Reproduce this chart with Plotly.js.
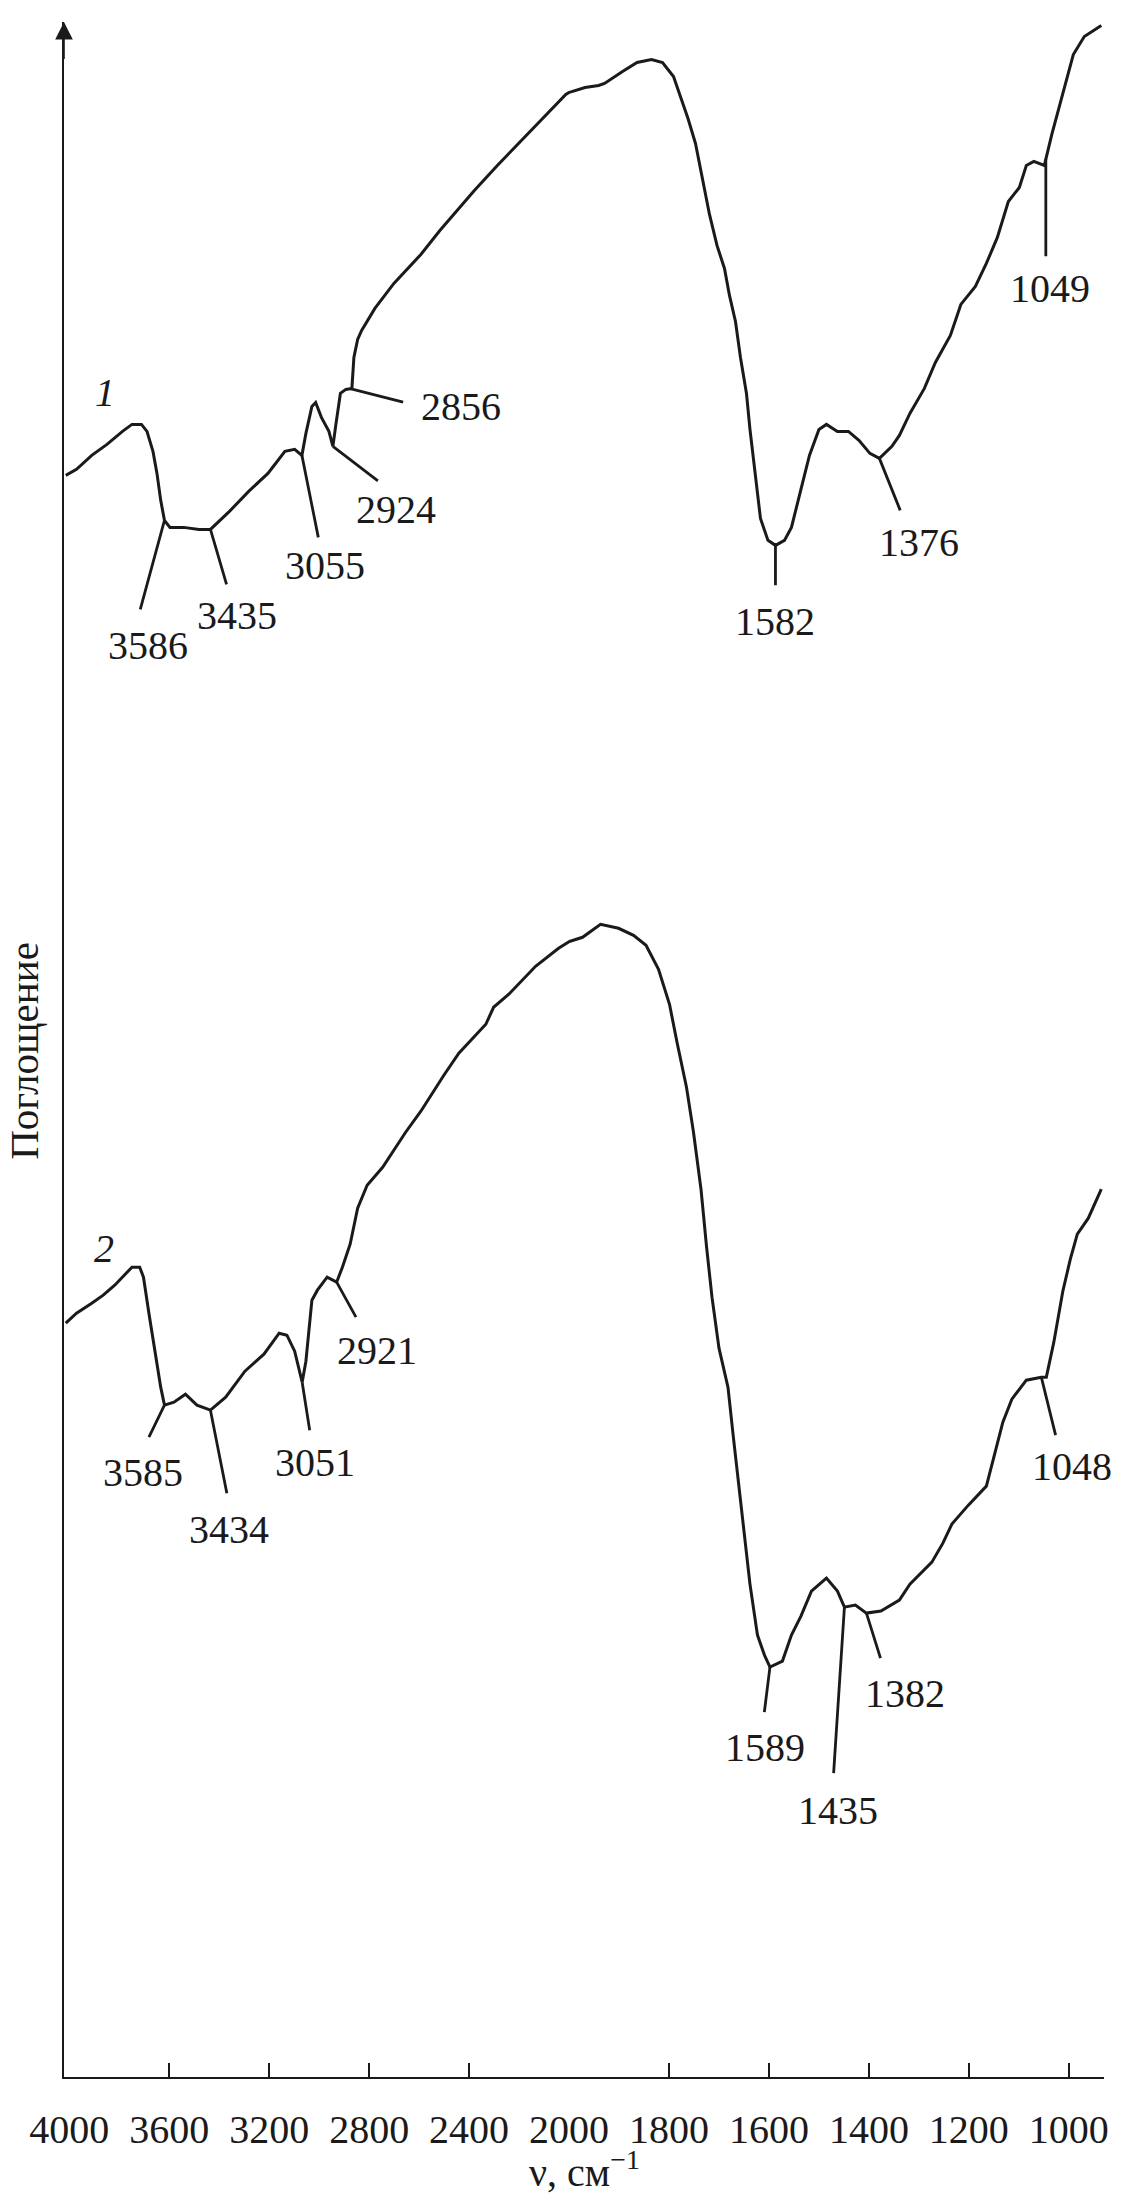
<!DOCTYPE html>
<html><head><meta charset="utf-8">
<script src="https://cdn.plot.ly/plotly-3.0.1.min.js"></script>
<style>html,body{margin:0;padding:0;background:#fff}</style>
</head><body><div id="chart" style="width:1121px;height:2200px"></div>
<script>
// ---- data ----
const wn1 = [4014,3971,3910,3849,3787,3749,3711,3689,3665,3649,3634,3619,3597,3542,3481,3435,3359,3282,3205,3137,3098,3069,3053,3029,3014,2991,2961,2945,2933,2915,2893,2869,2861,2846,2830,2777,2701,2593,2517,2441,2379,2287,2210,2105,2013,1968,1941,1929,1893,1864,1835,1813,1791,1777,1762,1747,1733,1719,1704,1689,1679,1667,1657,1645,1638,1627,1617,1602,1587,1569,1555,1537,1519,1500,1485,1463,1441,1420,1398,1379,1354,1339,1318,1289,1267,1237,1216,1187,1165,1143,1121,1099,1085,1070,1049,1034,1019,1005,991,969,935];
const abs1 = [1.602,1.608,1.622,1.633,1.646,1.653,1.653,1.646,1.626,1.604,1.577,1.557,1.550,1.550,1.548,1.548,1.566,1.586,1.604,1.626,1.628,1.622,1.644,1.671,1.675,1.660,1.646,1.631,1.653,1.684,1.688,1.689,1.720,1.738,1.747,1.769,1.794,1.823,1.847,1.869,1.887,1.912,1.932,1.959,1.983,1.990,1.992,1.994,2.006,2.015,2.018,2.015,2.001,1.981,1.959,1.934,1.898,1.863,1.832,1.809,1.782,1.756,1.720,1.684,1.648,1.604,1.559,1.537,1.532,1.537,1.550,1.586,1.622,1.648,1.653,1.646,1.646,1.637,1.624,1.619,1.631,1.642,1.664,1.689,1.715,1.742,1.773,1.791,1.814,1.840,1.876,1.890,1.912,1.916,1.912,1.943,1.970,1.997,2.023,2.041,2.052];
const wn2 = [4014,3971,3910,3864,3818,3772,3749,3718,3703,3680,3657,3634,3619,3581,3535,3489,3435,3374,3297,3221,3160,3129,3098,3068,3053,3029,3007,2968,2930,2907,2876,2846,2808,2746,2654,2593,2501,2441,2333,2302,2241,2134,2042,1991,1973,1937,1901,1871,1846,1821,1799,1784,1765,1751,1736,1725,1714,1700,1682,1671,1660,1649,1638,1623,1609,1598,1573,1555,1536,1515,1485,1463,1449,1427,1405,1376,1339,1318,1274,1252,1234,1201,1165,1150,1132,1114,1085,1055,1045,1030,1012,997,983,961,935];
const abs2 = [0.754,0.764,0.774,0.782,0.792,0.804,0.810,0.810,0.800,0.762,0.726,0.690,0.672,0.675,0.683,0.672,0.667,0.680,0.706,0.723,0.744,0.742,0.726,0.695,0.716,0.777,0.787,0.800,0.795,0.810,0.833,0.869,0.892,0.910,0.945,0.966,1.002,1.024,1.053,1.070,1.083,1.111,1.129,1.137,1.140,1.153,1.149,1.142,1.132,1.108,1.073,1.035,0.990,0.945,0.888,0.831,0.780,0.729,0.690,0.639,0.588,0.544,0.493,0.442,0.422,0.410,0.416,0.442,0.461,0.486,0.499,0.486,0.470,0.472,0.464,0.466,0.477,0.493,0.515,0.534,0.553,0.572,0.591,0.620,0.655,0.678,0.697,0.700,0.700,0.735,0.786,0.818,0.843,0.859,0.888];

const labelsHigh = [4000,3600,3200,2800,2400];   // tick labels on the 4000–2000 scale
const marksHigh = [3600,3200,2800,2400];          // tick marks (4000 sits on the y axis)
const ticksLow = [2000,1800,1600,1400,1200,1000];

// peak labels and the wavenumber where each marker line meets the curve
const peaks1 = [3586,3435,3055,2924,2856,1582,1376,1049];
const peakAt1 = [3619,3435,3069,2945,2876,1587,1379,1046];
const peaks2 = [3585,3434,3051,2921,1589,1435,1382,1048];
const peakAt2 = [3619,3435,3068,2930,1598,1449,1405,1055];

const curveNames = ['1','2'];
const yTitle = 'Поглощение';
const xTitle = 'ν, см<sup>−1</sup>';

// ---- layout / style (pixel offsets for marker lines and labels) ----
const lead1 = [[-25,92],[17,58],[17,85],[47,36],[55,14],[0,43],[22,55],[0,100]];
const lab1  = [[-16,125],[27,86],[23,110],[63,63],[111,18],[0,76],[40,84],[4,129]];
const lead2 = [[-17,35],[17,86],[8,51],[21,38],[-6,48],[-11,169],[15,48],[15,61]];
const lab2  = [[-21,67],[19,119],[13,80],[40,68],[-5,80],[-6,203],[39,80],[31,89]];

const C = '#1a1a1a';
const SERIF = 'Liberation Serif, "DejaVu Serif", serif';
const D1 = 0.48563;

function split(xs, ys){
  const a={x:[],y:[]}, b={x:[],y:[]};
  for(let i=0;i<xs.length;i++){
    if(xs[i]>=2000){
      a.x.push(xs[i]); a.y.push(ys[i]);
      if(i+1<xs.length && xs[i+1]<2000){
        a.x.push(xs[i+1]); a.y.push(ys[i+1]);
        b.x.push(xs[i]); b.y.push(ys[i]);
      }
    } else { b.x.push(xs[i]); b.y.push(ys[i]); }
  }
  return [a,b];
}
function interp(xs, ys, x){
  for(let i=0;i<xs.length-1;i++){
    const a=xs[i], b=xs[i+1];
    if(x<=a && x>=b){ const t=(a-x)/(a-b); return ys[i]+t*(ys[i+1]-ys[i]); }
  }
  return ys[ys.length-1];
}

const traces = [];
[[wn1,abs1],[wn2,abs2]].forEach(([xs,ys])=>{
  const [a,b] = split(xs,ys);
  traces.push({x:a.x,y:a.y,xaxis:'x',yaxis:'y',mode:'lines',line:{color:C,width:3},hoverinfo:'skip'});
  traces.push({x:b.x,y:b.y,xaxis:'x2',yaxis:'y',mode:'lines',line:{color:C,width:3},hoverinfo:'skip'});
});

const ann = [];
function addPeaks(peaks, at, xs, ys, lead, lab){
  peaks.forEach((p,i)=>{
    const x = at[i], y = interp(xs,ys,x);
    const xref = x>=2000 ? 'x':'x2';
    ann.push({x:x,y:y,xref:xref,yref:'y',text:' ',font:{size:2},showarrow:true,arrowhead:0,
      arrowwidth:2.8,arrowcolor:C,ax:lead[i][0],ay:lead[i][1],standoff:0,startstandoff:0});
    ann.push({x:x,y:y,xref:xref,yref:'y',text:String(p),showarrow:false,
      xshift:lab[i][0],yshift:-lab[i][1],xanchor:'center',yanchor:'middle',
      font:{family:SERIF,size:40,color:C}});
  });
}
addPeaks(peaks1,peakAt1,wn1,abs1,lead1,lab1);
addPeaks(peaks2,peakAt2,wn2,abs2,lead2,lab2);

// curve numbers
ann.push({x:3857,y:1.6845,xref:'x',yref:'y',text:'<i>'+curveNames[0]+'</i>',showarrow:false,
  font:{family:SERIF,size:40,color:C}});
ann.push({x:3861,y:0.8285,xref:'x',yref:'y',text:'<i>'+curveNames[1]+'</i>',showarrow:false,
  font:{family:SERIF,size:40,color:C}});

// axis titles
ann.push({x:0.5,y:-0.045,xref:'paper',yref:'paper',text:xTitle,showarrow:false,
  xanchor:'center',yanchor:'middle',font:{family:SERIF,size:40,color:C}});
ann.push({x:-0.0384,y:0.4994,xref:'paper',yref:'paper',text:yTitle,showarrow:false,textangle:-90,
  xanchor:'center',yanchor:'middle',font:{family:SERIF,size:41,color:C}});

// arrow on the y axis
ann.push({x:0,y:1,xref:'paper',yref:'paper',text:' ',font:{size:2},showarrow:true,arrowhead:2,
  arrowsize:2.2,arrowwidth:1.6,arrowcolor:C,ax:0,ay:40,standoff:0});

const STANDOFF = 16;
const xCommon = {anchor:'y',showline:true,linewidth:2,linecolor:C,ticks:'inside',ticklen:14,
  tickwidth:2,tickcolor:C,showgrid:false,zeroline:false,ticklabelstandoff:STANDOFF,
  tickfont:{family:SERIF,size:40,color:C},fixedrange:true};

const layout = {
  width:1121,height:2200,
  margin:{l:64,r:16.5,t:22,b:122.5},
  paper_bgcolor:'#fff',plot_bgcolor:'#fff',showlegend:false,
  xaxis:Object.assign({},xCommon,{domain:[0,D1],range:[4021,2000],tickmode:'array',ticks:'',
    tickvals:labelsHigh,ticktext:labelsHigh.map(String)}),
  xaxis3:{overlaying:'x',anchor:'y',range:[4021,2000],tickmode:'array',tickvals:marksHigh,
    ticks:'inside',ticklen:14,tickwidth:2,tickcolor:C,showticklabels:false,showline:false,
    showgrid:false,zeroline:false,fixedrange:true},
  xaxis2:Object.assign({},xCommon,{domain:[D1,1],range:[2000,929.6],tickmode:'array',
    tickvals:ticksLow,ticktext:ticksLow.map(String)}),
  yaxis:{anchor:'x',range:[0,2.0555],showline:true,linewidth:1.6,linecolor:C,ticks:'',
    showticklabels:false,showgrid:false,zeroline:false,fixedrange:true},
  annotations:ann
};

// invisible trace so the overlay tick axis is drawn
traces.push({x:[],y:[],xaxis:'x3',yaxis:'y',mode:'lines',hoverinfo:'skip',showlegend:false});

Plotly.newPlot('chart',traces,layout,{staticPlot:true,displayModeBar:false});
</script>
</body></html>
